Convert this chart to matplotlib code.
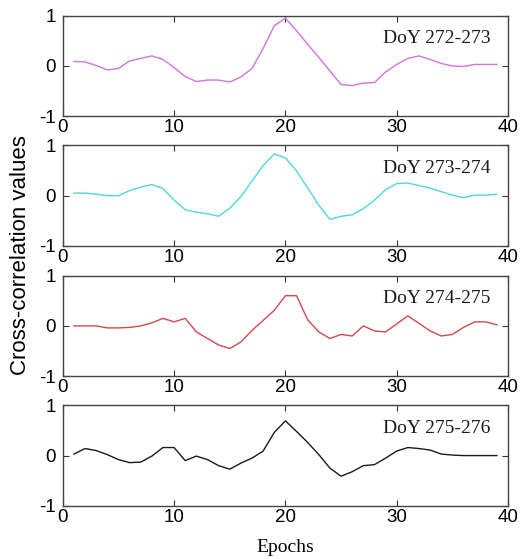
"""Cross-correlation of consecutive days, four stacked panels."""

from matplotlib import pyplot as plt

plt.rcParams["axes.unicode_minus"] = False

epochs = list(range(1, 40))

doy_272_273 = [0.09, 0.08, 0.01, -0.08, -0.05, 0.10, 0.15, 0.20, 0.13, -0.03,
               -0.21, -0.31, -0.28, -0.28, -0.32, -0.22, -0.05, 0.35, 0.80, 0.95,
               0.70, 0.43, 0.17, -0.10, -0.37, -0.39, -0.34, -0.33, -0.12, 0.03,
               0.15, 0.20, 0.13, 0.05, 0.00, -0.01, 0.03, 0.03, 0.03]
doy_273_274 = [0.05, 0.05, 0.03, 0.00, 0.00, 0.10, 0.17, 0.22, 0.14, -0.09,
               -0.28, -0.33, -0.36, -0.41, -0.25, -0.02, 0.29, 0.60, 0.83, 0.75,
               0.49, 0.15, -0.19, -0.47, -0.41, -0.38, -0.26, -0.09, 0.12, 0.24,
               0.25, 0.20, 0.15, 0.08, 0.01, -0.04, 0.01, 0.01, 0.03]
doy_274_275 = [0.00, 0.00, 0.00, -0.04, -0.04, -0.03, 0.00, 0.06, 0.15, 0.08,
               0.15, -0.12, -0.25, -0.38, -0.45, -0.32, -0.09, 0.11, 0.31, 0.60,
               0.60, 0.12, -0.12, -0.25, -0.17, -0.20, 0.00, -0.10, -0.12, 0.04,
               0.20, 0.05, -0.10, -0.20, -0.17, -0.03, 0.08, 0.08, 0.02]
doy_275_276 = [0.03, 0.14, 0.10, 0.02, -0.08, -0.14, -0.13, -0.01, 0.16, 0.16,
               -0.10, -0.01, -0.08, -0.20, -0.27, -0.15, -0.05, 0.09, 0.46, 0.69,
               0.48, 0.26, 0.02, -0.25, -0.41, -0.32, -0.20, -0.18, -0.05, 0.09,
               0.16, 0.14, 0.11, 0.03, 0.01, 0.00, 0.00, 0.00, 0.00]

series = [doy_272_273, doy_273_274, doy_274_275, doy_275_276]
labels = ["DoY 272-273", "DoY 273-274", "DoY 274-275", "DoY 275-276"]
colors = ["#d274dc", "#4fd8d8", "#d4484c", "#1a1a1a"]

x_ticks = [0, 10, 20, 30, 40]
y_ticks = [-1, 0, 1]

fig = plt.figure(figsize=(5.32, 5.59), dpi=100)

left, width, height = 0.118, 0.837, 0.180
bottoms = [0.792, 0.560, 0.327, 0.095]

for values, label, color, bottom in zip(series, labels, colors, bottoms):
    ax = fig.add_axes([left, bottom, width, height])
    ax.plot(epochs, values, "-", color=color, lw=1.0)
    ax.set_xlim(0, 40)
    ax.set_ylim(-1, 1)
    ax.set_xticks(x_ticks)
    ax.set_yticks(y_ticks)
    ax.set_xticklabels([str(t) for t in x_ticks], family="Liberation Sans")
    ax.set_yticklabels([str(t) for t in y_ticks], family="Liberation Sans")
    ax.tick_params(direction="in", length=4, width=0.8, labelsize=13.5,
                   top=True, right=True, color="#333333")
    ax.tick_params(axis="x", pad=2)
    ax.tick_params(axis="y", pad=5)
    for spine in ax.spines.values():
        spine.set_color("#444444")
        spine.set_linewidth(1.0)
    ax.text(0.96, 0.77, label, transform=ax.transAxes, ha="right", va="center",
            family="Liberation Serif", fontsize=14, color="#1a1a1a")

fig.text(21 / 532, 1 - 255 / 559, "Cross-correlation values", rotation=90,
         ha="center", va="center", family="Liberation Sans", fontsize=16)
fig.text(285 / 532, 1 - 548 / 559, "Epochs", ha="center", va="center",
         family="Liberation Serif", fontsize=14)

fig.savefig("out.png", dpi=100, facecolor="white")
